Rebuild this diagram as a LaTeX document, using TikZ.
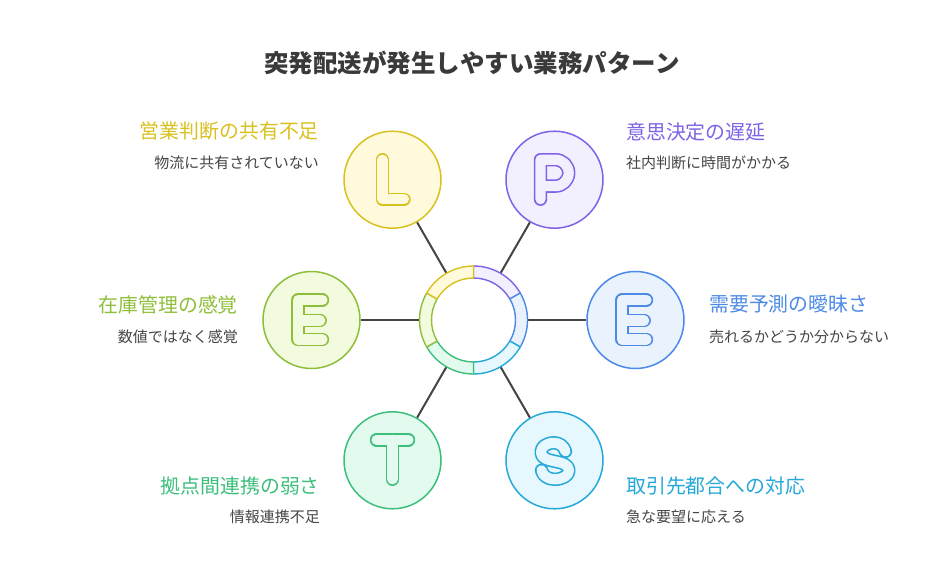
\documentclass[tikz,border=0pt]{standalone}
\usepackage{fontspec}
\newfontfamily\jp{Noto Sans CJK JP}
\definecolor{ycol}{HTML}{D9C11F}\definecolor{yfill}{HTML}{FEFADB}
\definecolor{pcol}{HTML}{8062E6}\definecolor{pfill}{HTML}{F2EFFE}
\definecolor{bcol}{HTML}{4D8AE6}\definecolor{bfill}{HTML}{EAF2FE}
\definecolor{ccol}{HTML}{25A9D9}\definecolor{cfill}{HTML}{E6F7FE}
\definecolor{gcol}{HTML}{3DBF7C}\definecolor{gfill}{HTML}{E3FBEF}
\definecolor{lcol}{HTML}{8FBF3A}\definecolor{lfill}{HTML}{F3FBDF}
\definecolor{titlecol}{HTML}{3A3A3A}
\definecolor{subcol}{HTML}{454545}
\definecolor{linecol}{HTML}{444444}
\tikzset{
  circ/.style={circle,minimum size=97pt,inner sep=0pt,line width=1.5pt},
  seg/.style={line width=1.4pt,line join=round},
  conn/.style={draw=linecol,line width=2pt},
  head/.style={inner sep=0pt,font=\jp\fontsize{19.9}{22}\selectfont},
  subt/.style={inner sep=0pt,text=subcol,font=\jp\fontsize{15}{18}\selectfont},
  ttl/.style={inner sep=0pt,text=titlecol,font=\jp\bfseries\fontsize{24.5}{28}\selectfont},
  gout/.style={line width=13.4pt,line cap=round,line join=round},
  gin/.style={line width=10.2pt,line cap=round,line join=round},
}
\newcommand\glyphpath[3]{\draw[gout,#1] #3; \draw[gin,#2] #3;}
\begin{document}
\begin{tikzpicture}[x=1pt,y=-1pt]
\useasboundingbox (0,0) rectangle (948,586);
\fill[white] (0,0) rectangle (948,586);
\coordinate (C) at (473.5,320);
\node[circle,minimum size=108pt,inner sep=0pt,outer sep=0pt] (R) at (C) {};

% outer circles
\node[circ,draw=ycol,fill=yfill] (L) at ([shift={(240:162)}]C) {};
\node[circ,draw=pcol,fill=pfill] (P) at ([shift={(300:162)}]C) {};
\node[circ,draw=bcol,fill=bfill] (ER) at ([shift={(0:162)}]C) {};
\node[circ,draw=ccol,fill=cfill] (S) at ([shift={(60:162)}]C) {};
\node[circ,draw=gcol,fill=gfill] (T) at ([shift={(120:162)}]C) {};
\node[circ,draw=lcol,fill=lfill] (EL) at ([shift={(180:162)}]C) {};

% connectors
\foreach \n in {L,P,ER,S,T,EL} \draw[conn] (R) -- (\n);

% ring segments
\draw[seg,draw=pcol,fill=pfill] ([shift={(-90:54)}]C) arc[start angle=-90,end angle=-30,radius=54] -- ([shift={(-30:42)}]C) arc[start angle=-30,end angle=-90,radius=42] -- cycle;
\draw[seg,draw=bcol,fill=bfill] ([shift={(-30:54)}]C) arc[start angle=-30,end angle=30,radius=54] -- ([shift={(30:42)}]C) arc[start angle=30,end angle=-30,radius=42] -- cycle;
\draw[seg,draw=ccol,fill=cfill] ([shift={(30:54)}]C) arc[start angle=30,end angle=90,radius=54] -- ([shift={(90:42)}]C) arc[start angle=90,end angle=30,radius=42] -- cycle;
\draw[seg,draw=gcol,fill=gfill] ([shift={(90:54)}]C) arc[start angle=90,end angle=150,radius=54] -- ([shift={(150:42)}]C) arc[start angle=150,end angle=90,radius=42] -- cycle;
\draw[seg,draw=lcol,fill=lfill] ([shift={(150:54)}]C) arc[start angle=150,end angle=210,radius=54] -- ([shift={(210:42)}]C) arc[start angle=210,end angle=150,radius=42] -- cycle;
\draw[seg,draw=ycol,fill=yfill] ([shift={(210:54)}]C) arc[start angle=210,end angle=270,radius=54] -- ([shift={(270:42)}]C) arc[start angle=270,end angle=210,radius=42] -- cycle;

% letters
\begin{scope}[shift={(L.center)}]
\glyphpath{ycol}{yfill}{(-10,-20) -- (-10,19.5) -- (11.5,19.5)}
\end{scope}
\begin{scope}[shift={(P.center)}]
\glyphpath{pcol}{pfill}{(-14,19.5) -- (-14,-20) -- (1,-20) arc[start angle=-90,end angle=90,radius=13.2] -- (-14,6.4)}
\end{scope}
\begin{scope}[shift={(ER.center)}]
\glyphpath{bcol}{bfill}{(11,-20) -- (-13.5,-20) -- (-13.5,19.5) -- (11,19.5) (-13.5,0.5) -- (8.7,0.5)}
\end{scope}
\begin{scope}[shift={(EL.center)}]
\glyphpath{lcol}{lfill}{(11,-20) -- (-13.5,-20) -- (-13.5,19.5) -- (11,19.5) (-13.5,0.5) -- (8.7,0.5)}
\end{scope}
\begin{scope}[shift={(T.center)}]
\glyphpath{gcol}{gfill}{(-16,-20.5) -- (16,-20.5) (0,-20.5) -- (0,19)}
\end{scope}
\begin{scope}[shift={(S.center)}]
\glyphpath{ccol}{cfill}{(11,-9) .. controls (9,-14.5) and (5,-17.5) .. (-0.5,-17.5) .. controls (-8,-17.5) and (-13.5,-13.5) .. (-13.5,-8) .. controls (-13.5,-2) and (-7,-0.5) .. (0,1) .. controls (8,2.5) and (14.5,4.5) .. (14.5,10) .. controls (14.5,15.5) and (8,19) .. (0,19) .. controls (-7,19) and (-12,15) .. (-13,10)}
\end{scope}

% title
\node[ttl] (title) at (472,63) {突発配送が発生しやすい業務パターン};

% labels
\node[head,text=ycol,anchor=east] (Lh) at (319,131.5) {営業判断の共有不足};
\node[subt,anchor=east] (Ls) at (319,163) {物流に共有されていない};
\node[head,text=pcol,anchor=west] (Ph) at (626,131.5) {意思決定の遅延};
\node[subt,anchor=west] (Ps) at (626,163) {社内判断に時間がかかる};
\node[head,text=bcol,anchor=west] (ERh) at (709,303.5) {需要予測の曖昧さ};
\node[subt,anchor=west] (ERs) at (709,336.5) {売れるかどうか分からない};
\node[head,text=ccol,anchor=west] (Sh) at (626,486) {取引先都合への対応};
\node[subt,anchor=west] (Ss) at (626,517) {急な要望に応える};
\node[head,text=gcol,anchor=east] (Th) at (320,486) {拠点間連携の弱さ};
\node[subt,anchor=east] (Ts) at (320,517) {情報連携不足};
\node[head,text=lcol,anchor=east] (ELh) at (238,304.5) {在庫管理の感覚};
\node[subt,anchor=east] (ELs) at (238,336.5) {数値ではなく感覚};
\end{tikzpicture}
\end{document}
